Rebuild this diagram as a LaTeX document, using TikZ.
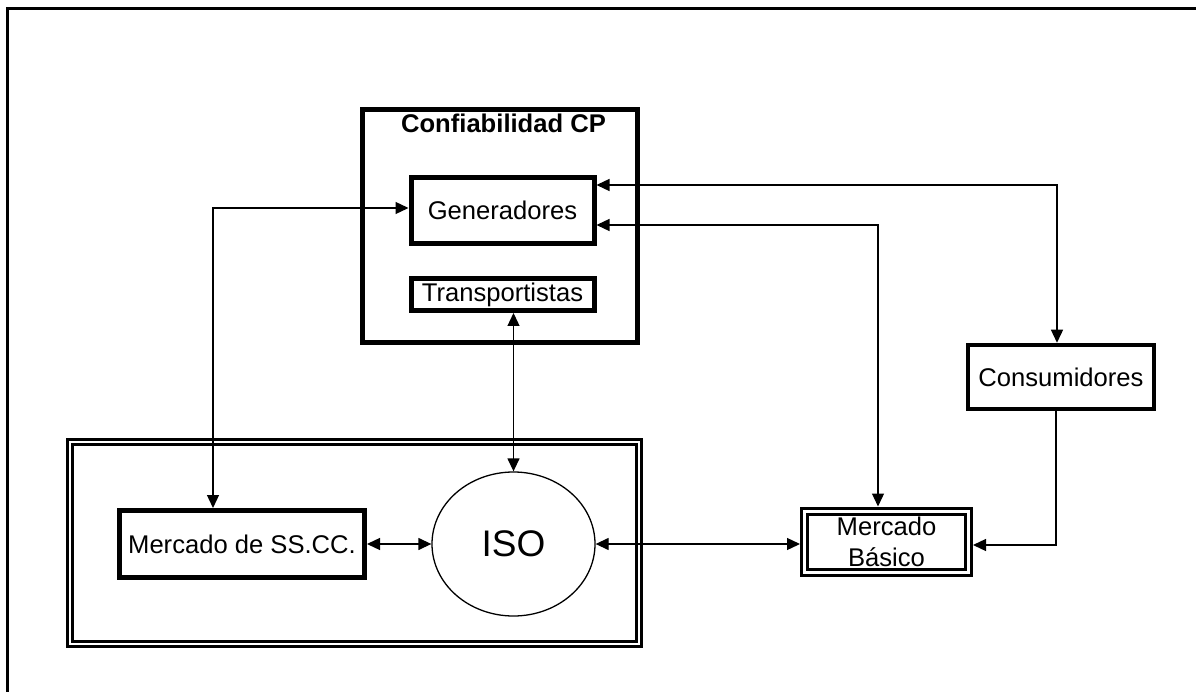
\documentclass[tikz,border=0pt]{standalone}
\usepackage{fontspec}
\setmainfont{Liberation Sans}
\usetikzlibrary{arrows.meta,shapes.geometric}
\begin{document}
\begin{tikzpicture}[x=1pt,y=-1pt,
  txt/.style={font=\fontsize{25.6}{31}\selectfont},
  thickbox/.style={draw,rectangle,line width=5pt,inner sep=0pt,txt},
  dblbox/.style={draw,rectangle,double,line width=3pt,double distance=3pt,inner sep=0pt,outer sep=4.5pt},
  tip/.tip={Triangle[length=13pt,width=12pt]},
  link/.style={line width=1.3pt,tip-tip},
  feed/.style={line width=1.3pt,-tip}]

% page and outer frame (runs off the right and bottom edges)
\path[use as bounding box] (0,0) rectangle (1196,692);
\clip (0,0) rectangle (1196,692);
\draw[line width=3pt] (7.5,9) rectangle (1230,730);

% reliability group
\node[thickbox,minimum width=275pt,minimum height=233.5pt] (conf) at (500,226.25) {};
\node[anchor=base,inner sep=0pt,font=\fontsize{25.6}{31}\selectfont\bfseries] (title) at (503.5,133) {Confiabilidad CP};
\node[thickbox,minimum width=183pt,minimum height=66.5pt] (gen) at (502.5,210.75) {Generadores};
\node[thickbox,minimum width=183pt,minimum height=31.5pt] (trans) at (502.5,294.75) {Transportistas};

% consumers and basic market
\node[thickbox,line width=4.5pt,minimum width=186pt,minimum height=64pt] (cons) at (1061,377) {Consumidores};
\node[dblbox,txt,align=center,minimum width=164pt,minimum height=61pt] (mb) at (886.5,541.5) {Mercado\\Básico};

% ancillary services group
\node[dblbox,double distance=2pt,outer sep=4pt,minimum width=569.5pt,minimum height=202pt] (anc) at (354.25,543) {};
\node[thickbox,minimum width=245pt,minimum height=67pt] (sscc) at (242,544) {Mercado de SS.CC.};
\node[draw,ellipse,line width=1.3pt,inner sep=0pt,minimum width=163pt,minimum height=144pt,
      font=\fontsize{37}{40}\selectfont] (iso) at (513.5,544) {ISO};

% bend points of the connectors
\coordinate (j1) at (213,208);
\coordinate (j5) at (1057,185);
\coordinate (j6) at (878,225);
\coordinate (j7) at (1056,545);

% connectors
\draw[link] (j1 |- sscc.north) -- (j1) -- (gen.west |- j1);
\draw[link] (trans.south -| iso.north) -- (iso.north);
\draw[link] (sscc.east) -- (iso.west);
\draw[link] (iso.east) -- (iso.east -| mb.west);
\draw[link] (gen.east |- j5) -- (j5) -- (j5 |- cons.north);
\draw[link] (gen.east |- j6) -- (j6) -- (j6 |- mb.north);
\draw[feed] (j7 |- cons.south) -- (j7) -- (mb.east |- j7);
\end{tikzpicture}
\end{document}
